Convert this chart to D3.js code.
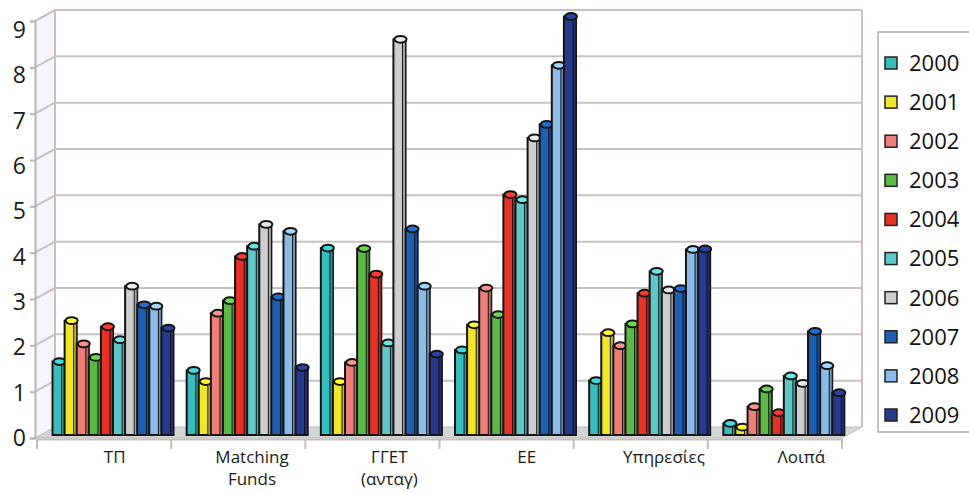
<!DOCTYPE html>
<html>
<head>
<meta charset="utf-8">
<script src="https://cdn.jsdelivr.net/npm/d3@7"></script>
<style>
  html, body { margin: 0; padding: 0; background: #fff; }
  svg { display: block; font-family: "Open Sans", "DejaVu Sans", sans-serif; }
</style>
</head>
<body>
<svg id="chart" width="969" height="494"></svg>
<script>
// ---- data ----
const categories = ["ΤΠ", "Matching Funds", "ΓΓΕΤ (ανταγ)", "ΕΕ", "Υπηρεσίες", "Λοιπά"];
const categoryLines = [["ΤΠ"], ["Matching", "Funds"], ["ΓΓΕΤ", "(ανταγ)"], ["ΕΕ"], ["Υπηρεσίες"], ["Λοιπά"]];
const years = ["2000", "2001", "2002", "2003", "2004", "2005", "2006", "2007", "2008", "2009"];
const v2000 = [1.58, 1.39, 4.02, 1.83, 1.17, 0.25];
const v2001 = [2.46, 1.15, 1.15, 2.37, 2.20, 0.17];
const v2002 = [1.96, 2.62, 1.56, 3.16, 1.92, 0.61];
const v2003 = [1.67, 2.89, 4.01, 2.59, 2.39, 0.99];
const v2004 = [2.33, 3.84, 3.46, 5.17, 3.05, 0.48];
const v2005 = [2.05, 4.06, 1.98, 5.06, 3.52, 1.27];
const v2006 = [3.20, 4.53, 8.51, 6.39, 3.12, 1.11];
const v2007 = [2.80, 2.97, 4.43, 6.68, 3.15, 2.23];
const v2008 = [2.77, 4.38, 3.20, 7.95, 3.99, 1.49];
const v2009 = [2.30, 1.45, 1.74, 9.00, 4.00, 0.91];
const seriesValues = [v2000, v2001, v2002, v2003, v2004, v2005, v2006, v2007, v2008, v2009];
const yTicks = [0, 1, 2, 3, 4, 5, 6, 7, 8, 9];
const colors = ["#38bcbc", "#f2e62a", "#ee7e78", "#5cbb46", "#e83228", "#5ec8c8", "#cdcdcd", "#1e5fb6", "#8cbbe8", "#26398f"];

// ---- layout ----
const svg = d3.select("#chart");
const depthX = 20;
const frontLeft = 35, frontRight = 842;

const x0 = d3.scaleBand().domain(categories).range([37, 842]);
const x1 = d3.scaleBand().domain(years).range([15.5, 136.5]);
const xLabel = d3.scaleBand().domain(categories).range([46, 870]);
const yBar = d3.scaleLinear().domain([0, 9]).range([435, 16.5]);
const yBack = d3.scaleLinear().domain([0, 9]).range([427, 10]);
const yFront = d3.scaleLinear().domain([0, 9]).range([438, 21]);
const yLabel = d3.scaleLinear().domain([0, 9]).range([438, 30]);

const gridColor = "#c9c0c0";

// side wall
svg.append("path")
  .attr("d", `M${frontLeft},${yFront(0)} L${frontLeft},${yFront(9)} L${frontLeft + depthX},${yBack(9)} L${frontLeft + depthX},${yBack(0)} Z`)
  .attr("fill", "#f4f6f9").attr("stroke", "none");

// back wall gridlines
const gGrid = svg.append("g");
gGrid.selectAll("line.back").data(yTicks.filter(d => d > 0)).join("line")
  .attr("x1", frontLeft + depthX).attr("x2", frontRight + depthX)
  .attr("y1", d => yBack(d)).attr("y2", d => yBack(d))
  .attr("stroke", gridColor).attr("stroke-width", 2);
gGrid.selectAll("line.side").data(yTicks.filter(d => d > 0)).join("line")
  .attr("x1", frontLeft).attr("x2", frontLeft + depthX)
  .attr("y1", d => yFront(d)).attr("y2", d => yBack(d))
  .attr("stroke", gridColor).attr("stroke-width", 2);
// wall edges
svg.append("line").attr("x1", frontLeft + depthX).attr("x2", frontLeft + depthX)
  .attr("y1", yBack(9)).attr("y2", yBack(0)).attr("stroke", gridColor).attr("stroke-width", 2);
svg.append("line").attr("x1", frontRight + depthX).attr("x2", frontRight + depthX)
  .attr("y1", yBack(9)).attr("y2", yBack(0)).attr("stroke", gridColor).attr("stroke-width", 2);

// floor
svg.append("path")
  .attr("d", `M${frontLeft},${yFront(0)} L${frontRight},${yFront(0)} L${frontRight + depthX},${yBack(0)} L${frontLeft + depthX},${yBack(0)} Z`)
  .attr("fill", "#d6d6d6").attr("stroke", "#bcbcbc").attr("stroke-width", 1);

// bars
const barData = [];
categories.forEach((c, ci) => {
  years.forEach((yr, si) => {
    barData.push({ cat: c, year: yr, si, value: seriesValues[si][ci] });
  });
});
const w = x1.bandwidth();
const gBars = svg.append("g");
const bar = gBars.selectAll("g.bar").data(barData).join("g").attr("class", "bar");
bar.append("rect")
  .attr("x", d => x0(d.cat) + x1(d.year))
  .attr("y", d => yBar(d.value))
  .attr("width", w)
  .attr("height", d => yBar(0) - yBar(d.value))
  .attr("fill", d => colors[d.si])
  .attr("stroke", "#141414").attr("stroke-width", 2);
bar.append("rect")
  .attr("x", d => x0(d.cat) + x1(d.year) + w - 3)
  .attr("y", d => yBar(d.value))
  .attr("width", 3)
  .attr("height", d => yBar(0) - yBar(d.value))
  .attr("fill", d => d3.color(colors[d.si]).darker(0.6))
  .attr("stroke", "#141414").attr("stroke-width", 1);
bar.append("ellipse")
  .attr("cx", d => x0(d.cat) + x1(d.year) + w / 2 + 1)
  .attr("cy", d => yBar(d.value))
  .attr("rx", w / 2)
  .attr("ry", 3.4)
  .attr("fill", d => d3.color(colors[d.si]).brighter(0.4))
  .attr("stroke", "#141414").attr("stroke-width", 2);

// front axis (y)
const yAxis = d3.axisLeft(yFront).tickValues(yTicks).tickSize(5).tickFormat("");
const gy = svg.append("g").attr("transform", `translate(${frontLeft},0)`).call(yAxis);
gy.selectAll("path, line").attr("stroke", "#b9b3b3").attr("stroke-width", 2);
svg.append("g").selectAll("text").data(yTicks).join("text")
  .attr("x", 26).attr("y", d => yLabel(d))
  .attr("dy", "0.35em")
  .attr("text-anchor", "end")
  .attr("font-size", 23).attr("fill", "#1a1a1a")
  .text(d => d);

// x axis baseline and ticks
const xAxis = d3.axisBottom(x0).tickSize(0).tickFormat("");
const gx = svg.append("g").attr("transform", `translate(0,${yFront(0) + 1})`).call(xAxis);
gx.select("path").attr("stroke", "#c4bebe").attr("stroke-width", 2);
const boundaries = categories.map(c => x0(c)).concat([x0.range()[1]]);
svg.append("g").selectAll("line").data(boundaries).join("line")
  .attr("x1", d => d).attr("x2", d => d)
  .attr("y1", yFront(0) + 1).attr("y2", yFront(0) + 11)
  .attr("stroke", "#c4bebe").attr("stroke-width", 2);

// category labels (one text per line)
const gLab = svg.append("g");
categories.forEach((c, i) => {
  categoryLines[i].forEach((line, li) => {
    gLab.append("text")
      .attr("x", xLabel(c) + xLabel.bandwidth() / 2)
      .attr("y", 457 + li * 22)
      .attr("dy", "0.35em")
      .attr("text-anchor", "middle")
      .attr("font-size", 17).attr("fill", "#1a1a1a")
      .text(line);
  });
});

// legend
const lg = svg.append("g");
lg.append("rect").attr("x", 878).attr("y", 32).attr("width", 100).attr("height", 400)
  .attr("fill", "#fff").attr("stroke", "#b0aaaa").attr("stroke-width", 1.5);
const yLeg = d3.scalePoint().domain(years).range([63, 415]);
const item = lg.selectAll("g.item").data(years).join("g").attr("class", "item")
  .attr("transform", d => `translate(0,${yLeg(d)})`);
item.append("rect").attr("x", 885).attr("y", -6).attr("width", 12).attr("height", 12)
  .attr("fill", (d, i) => colors[i]).attr("stroke", "#222").attr("stroke-width", 1.5);
item.append("text").attr("x", 909).attr("y", 0).attr("dy", "0.36em")
  .attr("font-size", 22).attr("fill", "#111").text(d => d);
</script>
</body>
</html>
